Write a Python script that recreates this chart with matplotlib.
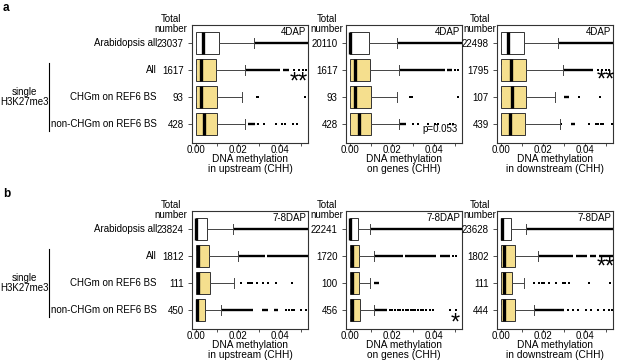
import numpy as np
import matplotlib.pyplot as plt
from matplotlib.transforms import blended_transform_factory

plt.rcParams['font.family'] = ['Liberation Sans', 'DejaVu Sans']
plt.rcParams['font.size'] = 7

# groups (rows, top to bottom)
groups = ['Arabidopsis all', 'All', 'CHGm on REF6 BS', 'non-CHGm on REF6 BS']
xlabels = ['DNA methylation\nin upstream (CHH)',
           'DNA methylation\non genes (CHH)',
           'DNA methylation\nin downstream (CHH)']

# ---- a: 4DAP  (one list per region: upstream, genes, downstream)
counts_4 = [[23037, 1617, 93, 428], [20110, 1617, 93, 428], [22498, 1795, 107, 439]]
median_4 = [[0.0036, 0.0025, 0.0025, 0.0041],
            [0.0003, 0.0027, 0.0027, 0.0046],
            [0.0035, 0.0048, 0.0051, 0.0044]]
q3_4 = [[0.0111, 0.0095, 0.0100, 0.0100],
        [0.0089, 0.0097, 0.0100, 0.0100],
        [0.0111, 0.0119, 0.0122, 0.0114]]
whisk_4 = [[0.0278, 0.0234, 0.0221, 0.0234],
           [0.0226, 0.0235, 0.0226, 0.0235],
           [0.0273, 0.0297, 0.0259, 0.0283]]
# dense runs of outliers (from, to) and isolated outliers
runs_4 = [[[(0.0278, 0.06)], [(0.0237, 0.0400), (0.0412, 0.0445)], [], [(0.0247, 0.0280)]],
          [[(0.0226, 0.06)], [(0.0238, 0.0450), (0.0460, 0.0485)], [], [(0.0240, 0.0268)]],
          [[(0.0273, 0.06)], [(0.0297, 0.0440)], [(0.0302, 0.0323)], [(0.0334, 0.0354)]]]
pts_4 = [[[], [0.0465, 0.0490, 0.0510, 0.0522], [0.0289, 0.0297, 0.0518],
          [0.0297, 0.0325, 0.0380, 0.0408, 0.0424, 0.0463, 0.0483]],
         [[], [0.0500, 0.0513], [0.0286, 0.0294, 0.0513],
          [0.0300, 0.0325, 0.0372, 0.0403, 0.0419, 0.0474, 0.0490]],
         [[], [0.0460, 0.0480, 0.0500, 0.0515], [0.0373, 0.0469],
          [0.0286, 0.0421, 0.0453, 0.0463, 0.0475, 0.0485, 0.0529]]]

# ---- b: 7-8DAP
counts_78 = [[23824, 1812, 111, 450], [22241, 1720, 100, 456], [23628, 1802, 111, 444]]
median_78 = [[0.0003, 0.0012, 0.0012, 0.0004],
             [0.0003, 0.0011, 0.0011, 0.0011],
             [0.0005, 0.0016, 0.0016, 0.0016]]
q3_78 = [[0.0052, 0.0062, 0.0068, 0.0046],
         [0.0038, 0.0042, 0.0042, 0.0047],
         [0.0048, 0.0068, 0.0051, 0.0067]]
whisk_78 = [[0.0175, 0.0199, 0.0183, 0.0120],
            [0.0094, 0.0113, 0.0097, 0.0113],
            [0.0122, 0.0175, 0.0108, 0.0156]]
runs_78 = [[[(0.0175, 0.06)], [(0.0199, 0.0330), (0.0340, 0.0600)], [],
            [(0.0120, 0.0270), (0.0316, 0.0345), (0.0373, 0.0392)]],
           [[(0.0094, 0.06)], [(0.0113, 0.0254), (0.0262, 0.0411), (0.0427, 0.0474)],
            [(0.0113, 0.0137)], [(0.0113, 0.0176)]],
           [[(0.0122, 0.06)], [(0.0175, 0.0345), (0.0355, 0.0410), (0.0425, 0.0450), (0.0465, 0.0600)],
            [], [(0.0159, 0.0300)]]]
pts_78 = [[[], [], [0.0215, 0.0250, 0.0258, 0.0265, 0.0290, 0.0320, 0.0345, 0.0380, 0.0455],
           [0.0428, 0.0444, 0.0456, 0.0468, 0.0500, 0.0523]],
          [[], [0.0490, 0.0506], [],
           [0.0190, 0.0200, 0.0215, 0.0228, 0.0240, 0.0255, 0.0265, 0.0278, 0.0290, 0.0300,
            0.0312, 0.0325, 0.0340, 0.0350, 0.0360, 0.0380, 0.0395, 0.0474, 0.0505]],
          [[], [], [0.0159, 0.0183, 0.0195, 0.0207, 0.0230, 0.0260, 0.0294, 0.0305, 0.0323, 0.0421, 0.0520],
           [0.0320, 0.0342, 0.0365, 0.0405, 0.0430, 0.0460, 0.0490, 0.0515, 0.0530]]]

W, H = 617, 362
fig = plt.figure(figsize=(W / 100, H / 100), dpi=100)

yellow = '#F5DF8E'
edge = '#333333'
lefts = [192, 346, 497]
ax_w = 116
ax_h = 118


def px_axes(left, top, width, height):
    return fig.add_axes([left / W, 1 - (top + height) / H, width / W, height / H])


def draw_box(ax, med, q3, whi, runs, pts, counts):
    stats = [dict(med=med[i], q1=0.0, q3=q3[i], whislo=0.0, whishi=whi[i], fliers=[])
             for i in range(4)]
    # outliers first so the boxes sit on top
    for i in range(4):
        for a, b in runs[i]:
            ax.hlines(i, a, b, color='black', lw=1.7, zorder=1)
        if pts[i]:
            ax.plot(pts[i], [i] * len(pts[i]), 's', ms=1.8, mew=0, color='black', zorder=1)
    bp = ax.bxp(stats, positions=range(4), widths=0.8, orientation='horizontal',
                patch_artist=True, showfliers=False, capwidths=0.4,
                boxprops=dict(edgecolor=edge, lw=0.7),
                medianprops=dict(color='black', lw=2.4),
                whiskerprops=dict(color='#444444', lw=0.7),
                capprops=dict(color='#444444', lw=0.7))
    for i, patch in enumerate(bp['boxes']):
        patch.set_facecolor('white' if i == 0 else yellow)
        patch.set_zorder(2)
    ax.set_ylim(3.7, -0.67)
    ax.set_xlim(-0.0018, 0.0533)
    ax.set_yticks(range(4))
    ax.set_yticklabels([str(c) for c in counts])
    ax.set_xticks([0, 0.02, 0.04])
    ax.set_xticklabels(['0.00', '0.02', '0.04'])
    ax.set_xticks([0.01, 0.03, 0.05], minor=True)
    ax.tick_params(axis='x', which='both', length=2, pad=-0.5, width=0.6, color=edge)
    ax.tick_params(axis='y', length=3, pad=3, width=0.6, color=edge)
    for s in ax.spines.values():
        s.set_color(edge)
        s.set_linewidth(0.8)


panels = [
    (25, counts_4, median_4, q3_4, whisk_4, runs_4, pts_4, '4DAP', 'a'),
    (211, counts_78, median_78, q3_78, whisk_78, runs_78, pts_78, '7-8DAP', 'b'),
]

for top, counts, med, q3, whi, runs, pts, dap, letter in panels:
    axes = []
    for j in range(3):
        ax = px_axes(lefts[j], top, ax_w, ax_h)
        draw_box(ax, med[j], q3[j], whi[j], runs[j], pts[j], counts[j])
        ax.set_xlabel(xlabels[j], linespacing=0.95, fontsize=7.3)
        ax.xaxis.set_label_coords(0.5, -0.097)
        ax.text(0.985, 0.94, dap, transform=ax.transAxes, ha='right', va='center', fontsize=7)
        cx = [171, 327, 480][j]
        fig.text(cx / W, 1 - (top - 1) / H, 'Total\nnumber', ha='center', va='center',
                 linespacing=0.95, fontsize=7)
        axes.append(ax)

    trans = blended_transform_factory(fig.transFigure, axes[0].transData)
    for i, g in enumerate(groups):
        axes[0].text(157 / W, i, g, transform=trans, ha='right', va='center', fontsize=7)
    axes[0].plot([49 / W, 49 / W], [0.74, 3.27], transform=trans, color='black',
                 lw=0.8, clip_on=False)
    axes[0].text(24 / W, 2, 'single\nH3K27me3', transform=trans, ha='center', va='center',
                 fontsize=7, linespacing=1.0)
    fig.text(3 / W, 1 - (top - 17) / H, letter, fontweight='bold', fontsize=8.5,
             ha='left', va='center')

# significance marks
star_kw = dict(ha='center', va='center', fontsize=17)
fig.axes[0].text(0.0488, 1.45, '**', **star_kw)
fig.axes[1].text(0.0512, 3.17, 'p=0.053', ha='right', va='center', fontsize=7)
fig.axes[2].text(0.0497, 1.40, '**', **star_kw)
fig.axes[4].text(0.0502, 3.48, '*', **star_kw)
fig.axes[5].text(0.0497, 1.43, '**', **star_kw)

fig.savefig('out.png', dpi=100)
